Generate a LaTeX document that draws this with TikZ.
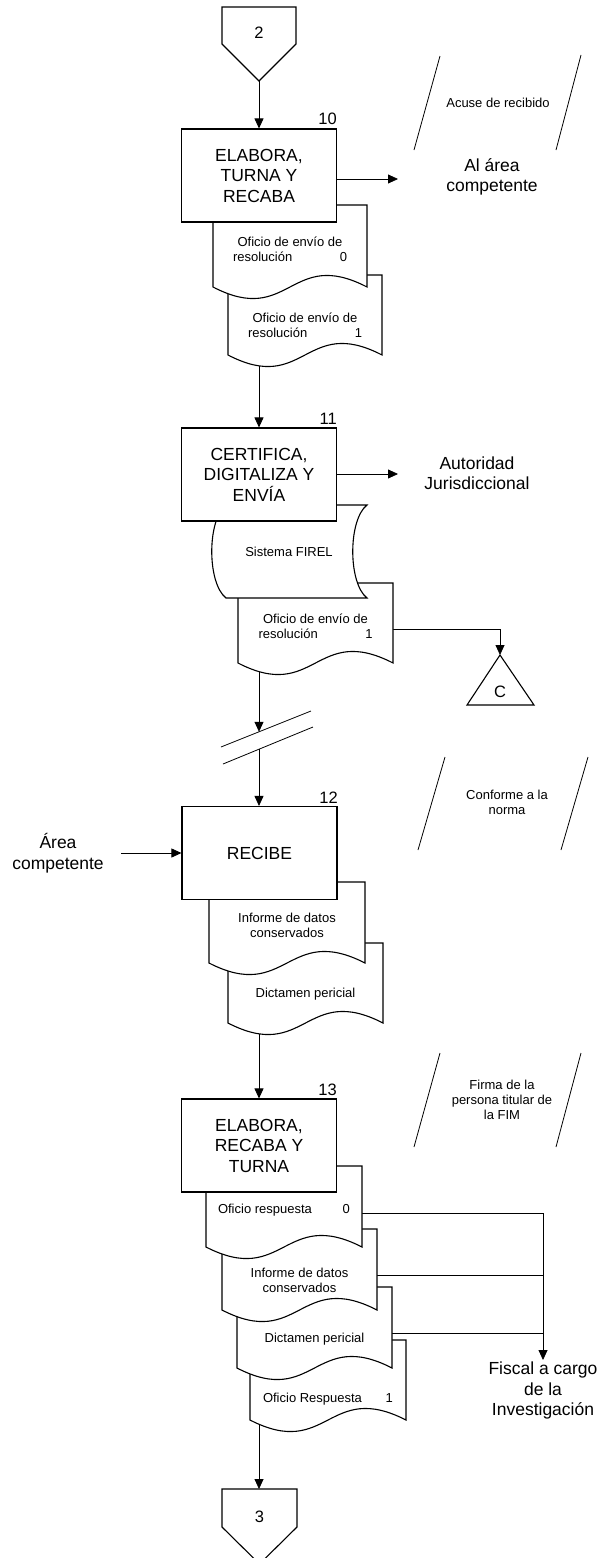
\documentclass[tikz,border=0pt]{standalone}
\usepackage{fontspec}
\setmainfont{Liberation Sans}
\usetikzlibrary{arrows.meta}
\pgfdeclarelayer{bgfill}
\pgfdeclarelayer{conns}
\pgfsetlayers{bgfill,conns,main}
\tikzset{
 shp/.style={draw=black, line width=1.1pt, fill=white},
 conn/.style={draw=black, line width=0.8pt},
 arr/.style={conn, -{Triangle[length=10pt,width=9pt]}},
 procbox/.style={shp, minimum width=155pt, minimum height=93pt, inner sep=0pt, align=center, font=\fontsize{17.5}{20.5}\selectfont},
 big/.style={align=center, inner sep=0pt, font=\fontsize{17.5}{20.5}\selectfont},
 small/.style={align=center, inner sep=0pt, font=\fontsize{13}{15}\selectfont},
 num/.style={inner sep=0pt, anchor=base east, font=\fontsize{16.5}{18}\selectfont},
 lbl/.style={inner sep=0pt, font=\fontsize{16.5}{18}\selectfont},
 annot/.style={draw=black, line width=0.8pt},
}
\newcommand\mydoc[4]{%
  \path[shp] (#1,#2) -- (#3,#2) -- (#3,#4) .. controls ({(#1+#3)/2},{#4-40}) and ({(#1+#3)/2},{#4+40}) .. (#1,#4) -- cycle;}
\begin{document}
\begin{tikzpicture}[x=1pt,y=-1pt]
\begin{pgfonlayer}{bgfill}
\fill[white] (0,0) rectangle (597,1558);
\end{pgfonlayer}
\clip (0,0) rectangle (597,1558);

% ---------- connector 2
\path[shp] (222,7) -- (296,7) -- (296,44) -- (259,81) -- (222,44) -- cycle;
\node[lbl] (l2) at (259,33) {2};
\coordinate (c2) at (259,81);

% ---------- step 10
\mydoc{228}{275}{382}{355}
\mydoc{213}{205}{367}{287}
\node[procbox] (b10) at (259,175.5) {ELABORA,\\TURNA Y\\RECABA};
\node[num] (n10) at (337,124.5) {10};
\node[small] (t1) at (290,249) {Oficio de envío de\\\makebox[114pt]{resolución\hfill 0}};
\node[small] (t2) at (305,325.5) {Oficio de envío de\\\makebox[114pt]{resolución\hfill 1}};
\coordinate (d2b) at (259,355);
\coordinate (a10) at (398,179);
\node[big] (alarea) at (492,177) {Al área\\competente};
\draw[annot] (440,56) -- (414,150);
\draw[annot] (581,55) -- (556,150);
\node[small] (acuse) at (498,103) {Acuse de recibido};

% ---------- step 11
\mydoc{238}{583}{393}{663}
\path[shp] (226,505) -- (367,505) .. controls (348,520) and (348,583) .. (367,598) -- (226,598) .. controls (207,583) and (207,520) .. (226,505) -- cycle;
\node[small] (firel) at (289,552) {Sistema FIREL};
\node[procbox] (b11) at (259,474.5) {CERTIFICA,\\DIGITALIZA Y\\ENVÍA};
\node[num] (n11) at (337,424.5) {11};
\node[small] (t3) at (315.5,626) {Oficio de envío de\\\makebox[114pt]{resolución\hfill 1}};
\coordinate (d3b) at (259,663);
\coordinate (d3r) at (393,629);
\coordinate (a11) at (398,474);
\node[big] (autor) at (477,473) {Autoridad\\Jurisdiccional};
% off-page connector C
\coordinate (capex) at (500,655);
\path[shp] (capex) -- (534,705) -- (467,705) -- cycle;
\node[lbl] (lC) at (500,692) {C};

% break marks
\draw[conn] (221,747) -- (311,711);
\draw[conn] (223,764) -- (313,727);
\coordinate (brU) at (259,731.8);
\coordinate (brL) at (259,749.2);

% ---------- step 12
\mydoc{228}{943}{383}{1023}
\mydoc{209}{882}{365}{963}
\node[procbox] (b12) at (259.5,853) {RECIBE};
\node[num] (n12) at (338,803.5) {12};
\node[small] (t4) at (287,925.5) {Informe de datos\\conservados};
\node[small] (t5) at (305.5,994) {Dictamen pericial};
\coordinate (dc1b) at (259,1023);
\node[big] (areac) at (58,853) {Área\\competente};
\coordinate (aA) at (121,853);
\draw[annot] (445,757) -- (418,850);
\draw[annot] (588,757) -- (561,850);
\node[small] (conf) at (507,802.5) {Conforme a la\\norma};

% ---------- step 13
\mydoc{250}{1340}{406}{1420}
\mydoc{237}{1287}{392}{1368}
\mydoc{222}{1229}{377}{1310}
\mydoc{206}{1166}{362}{1247}
\node[procbox] (b13) at (259,1145.5) {ELABORA,\\RECABA Y\\TURNA};
\node[num] (n13) at (337,1095.5) {13};
\node[small] (t6) at (284,1210) {\makebox[132pt]{Oficio respuesta\hfill 0}};
\node[small] (t7) at (299.5,1280) {Informe de datos\\conservados};
\node[small] (t8) at (314.5,1339) {Dictamen pericial};
\node[small] (t9) at (328,1399) {\makebox[130pt]{Oficio Respuesta\hfill 1}};
\coordinate (or0r) at (362,1213);
\coordinate (inf2r) at (377,1275);
\coordinate (dc2r) at (392,1333);
\coordinate (or1b) at (259,1420);
\node[big, anchor=north] (fis) at (543,1362) {Fiscal a cargo\\de la\\Investigación};
\coordinate (fisin) at (543,1360);
\coordinate (vj1) at (543,1275);
\coordinate (vj2) at (543,1333);
\draw[annot] (440,1053) -- (414,1147);
\draw[annot] (581,1053) -- (556,1147);
\node[small] (firma) at (502,1100) {Firma de la\\persona titular de\\la FIM};

% ---------- connector 3
\path[shp] (222,1489) -- (297,1489) -- (297,1527) -- (259.5,1564) -- (222,1527) -- cycle;
\node[lbl] (l3) at (259.5,1517) {3};
\coordinate (c3) at (259,1489);

% ---------- connectors
\begin{pgfonlayer}{conns}
\draw[arr] (c2) -- (b10.north);
\draw[arr] (b10.east |- a10) -- (a10);
\draw[arr] (d2b) -- (b11.north);
\draw[arr] (b11.east |- a11) -- (a11);
\draw[arr] (d3r) -| (capex);
\draw[arr] (d3b) -- (brU);
\draw[arr] (brL) -- (b12.north -| brL);
\draw[arr] (aA) -- (b12.west);
\draw[arr] (dc1b) -- (b13.north);
\draw[arr] (or0r) -| (fisin);
\draw[conn] (inf2r) -- (vj1);
\draw[conn] (dc2r) -- (vj2);
\draw[arr] (or1b) -- (c3);
\end{pgfonlayer}
\end{tikzpicture}
\end{document}
